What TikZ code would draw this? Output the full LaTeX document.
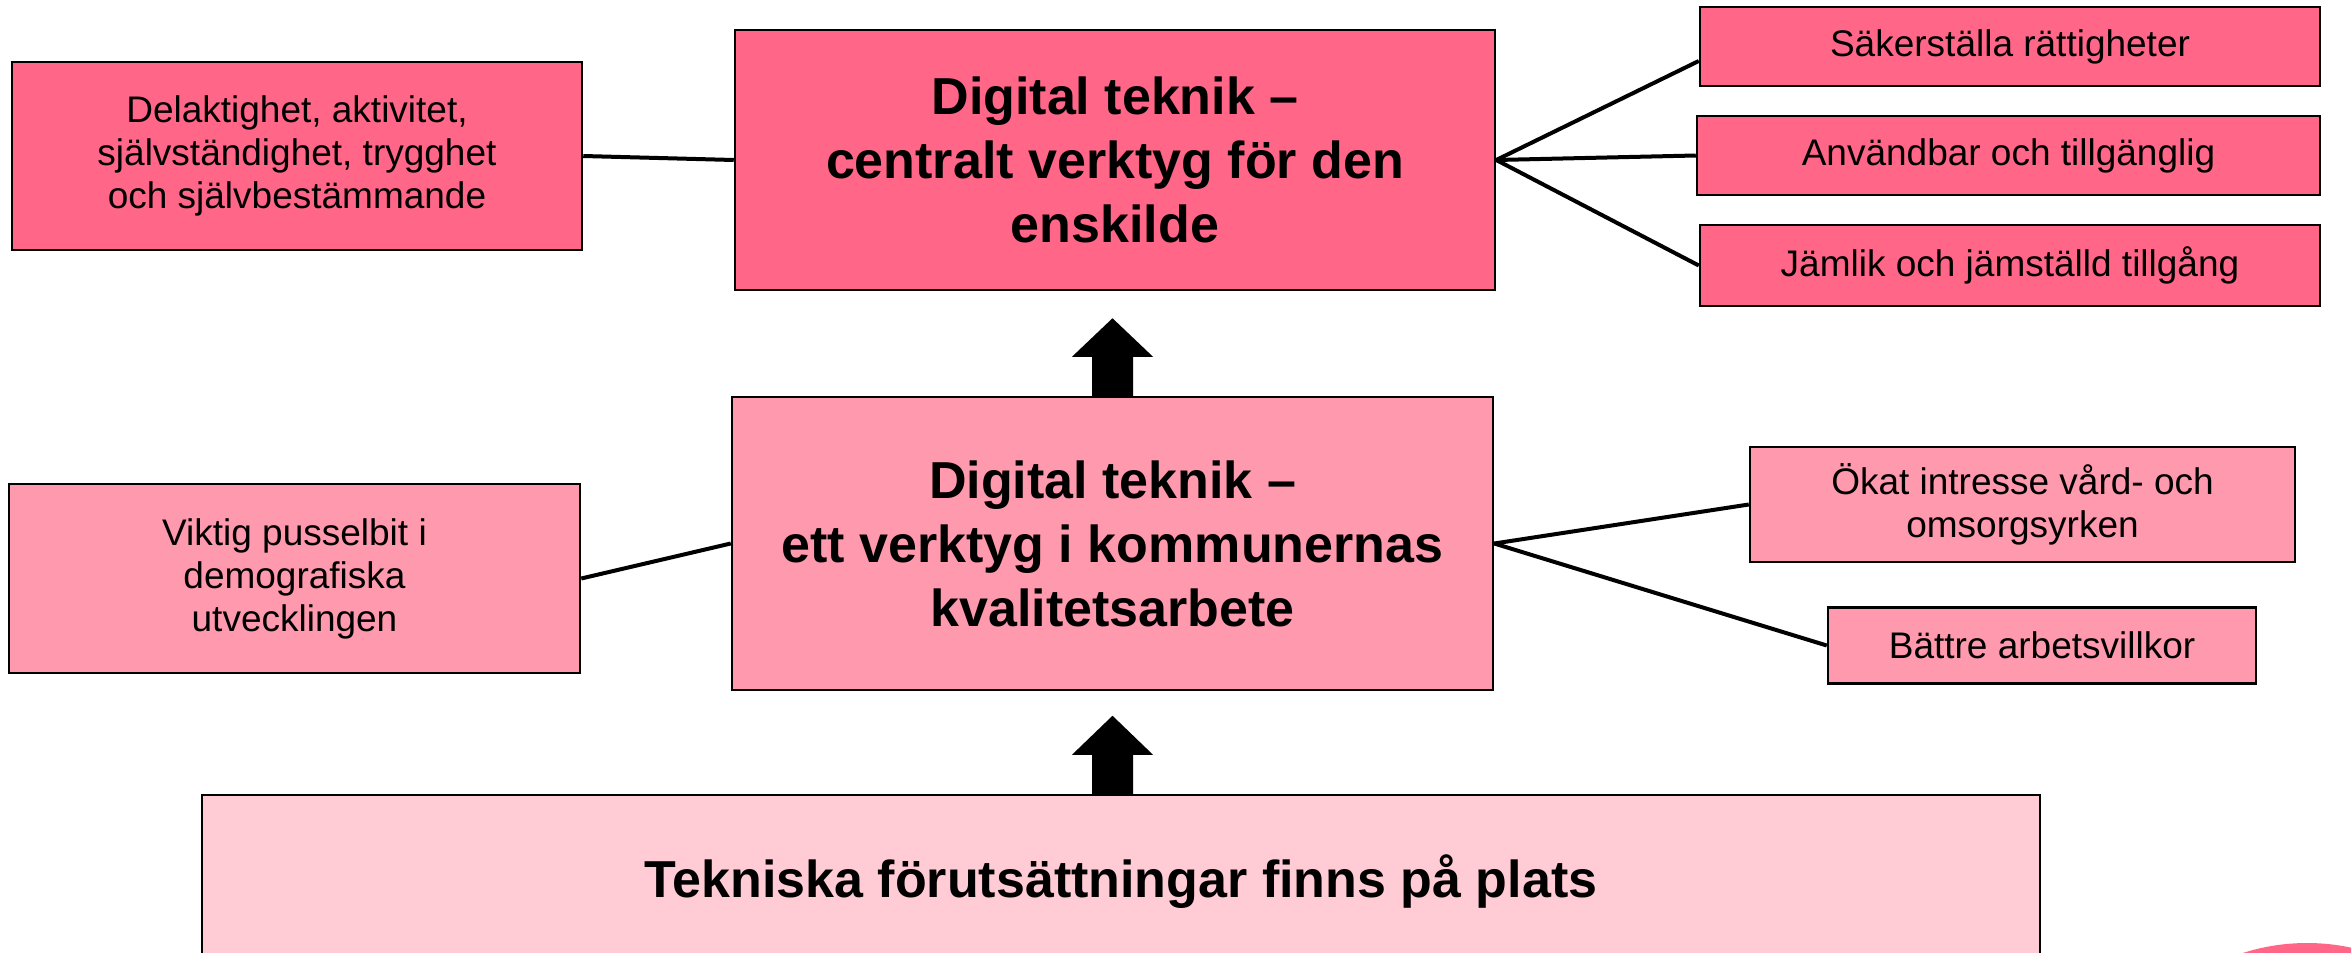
\documentclass[tikz,border=0pt]{standalone}
\usepackage{fontspec}
\setmainfont{Liberation Sans}
\usetikzlibrary{calc}
\definecolor{pinkA}{HTML}{FF6687}
\definecolor{pinkB}{HTML}{FF99AD}
\definecolor{pinkC}{HTML}{FFCBD5}
\tikzset{
  box/.style={draw=black, line width=2.5pt, rectangle, inner sep=0pt, align=center, text=black},
  boxA/.style={box, fill=pinkA},
  boxB/.style={box, fill=pinkB},
  boxC/.style={box, fill=pinkC},
  bigtxt/.style={font=\fontsize{52}{64}\selectfont\bfseries},
  smalltxt/.style={font=\fontsize{37}{43}\selectfont},
  link/.style={draw=black, line width=4pt},
  blockarrow/.style={fill=black, draw=none}
}
\begin{document}
\begin{tikzpicture}[x=1pt,y=-1pt]
\useasboundingbox (0,0) rectangle (2351,953);
\fill[white] (0,0) rectangle (2351,953);
\begin{scope}
\clip (0,0) rectangle (2351,953);
\fill[pinkA] (2307,1153) circle[radius=210];
% top row
\node[boxA, bigtxt, minimum width=760pt, minimum height=260pt] (top) at (1115,160)
  {Digital teknik --\\centralt verktyg för den\\enskilde};
\node[boxA, smalltxt, minimum width=570pt, minimum height=188pt] (tl) at (297,156)
  {Delaktighet, aktivitet,\\självständighet, trygghet\\och självbestämmande};
\node[boxA, smalltxt, minimum width=620pt, minimum height=79pt] (r1) at (2010,46.5)
  {Säkerställa rättigheter};
\node[boxA, smalltxt, minimum width=623pt, minimum height=79pt] (r2) at (2008.5,155.5)
  {Användbar och tillgänglig};
\node[boxA, smalltxt, minimum width=620pt, minimum height=81pt] (r3) at (2010,265.5)
  {Jämlik och jämställd tillgång};
% middle row
\node[boxB, bigtxt, minimum width=761pt, minimum height=293pt] (mid) at (1112.5,543.5)
  {Digital teknik --\\ett verktyg i kommunernas\\kvalitetsarbete};
\node[boxB, smalltxt, minimum width=571pt, minimum height=189pt] (ml) at (294.5,578.5)
  {Viktig pusselbit i\\demografiska\\utvecklingen};
\node[boxB, smalltxt, minimum width=545pt, minimum height=115pt] (m1) at (2022.5,504.5)
  {Ökat intresse vård- och\\omsorgsyrken};
\node[boxB, smalltxt, minimum width=428pt, minimum height=76pt] (m2) at (2042,645.5)
  {Bättre arbetsvillkor};
% bottom
\node[boxC, minimum width=1838pt, minimum height=220pt] (bot) at (1121,905) {};
\node[bigtxt, anchor=center] (bottxt) at (1121,882) {Tekniska förutsättningar finns på plats};
\end{scope}
% connectors
\draw[link] (top.east) -- ([yshift=-14.5pt]r1.west);
\draw[link] (top.east) -- (r2.west);
\draw[link] (top.east) -- (r3.west);
\draw[link] (tl.east) -- (top.west);
\draw[link] (mid.east) -- (m1.west);
\draw[link] (mid.east) -- (m2.west);
\draw[link] (ml.east) -- (mid.west);
% block arrows
\fill[blockarrow] ($(mid.north)+(-20.5,0)$) -- ++(0,-39) -- ++(-20,0) -- ($(top.south)+(-2.5,27)$)
  -- ($(mid.north)+(40.5,-39)$) -- ++(-20,0) -- ++(0,39) -- cycle;
\fill[blockarrow] ($(bot.north)+(-29,0)$) -- ++(0,-39) -- ++(-20,0) -- ($(bot.north)+(-8.5,-78)$)
  -- ($(bot.north)+(32,-39)$) -- ++(-20,0) -- ++(0,39) -- cycle;
\end{tikzpicture}
\end{document}
